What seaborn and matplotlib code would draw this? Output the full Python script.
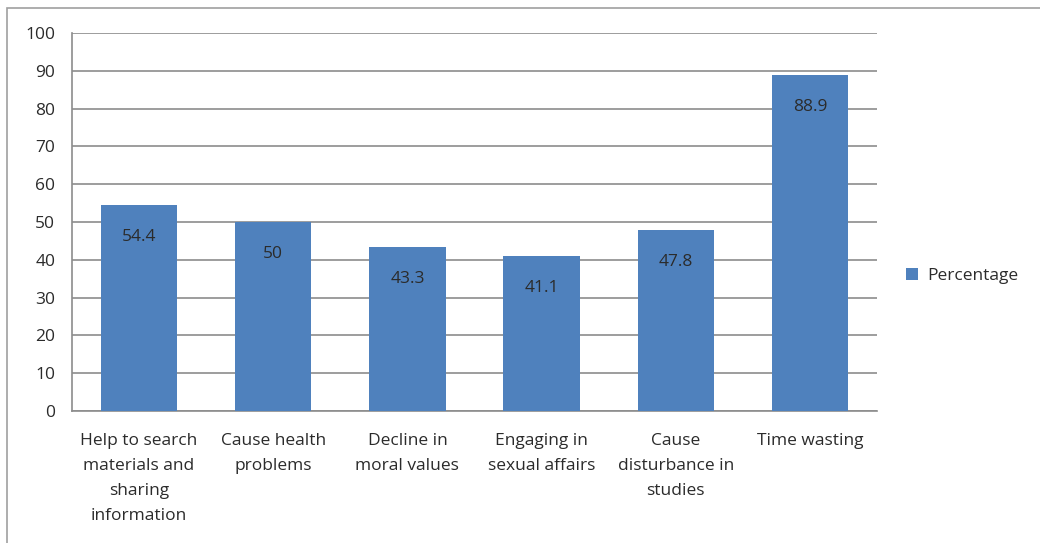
import pandas as pd
import matplotlib.pyplot as plt
import seaborn as sns
from matplotlib.patches import Rectangle

categories = [
    "Help to search\nmaterials and\nsharing\ninformation",
    "Cause health\nproblems",
    "Decline in\nmoral values",
    "Engaging in\nsexual affairs",
    "Cause\ndisturbance in\nstudies",
    "Time wasting",
]
percentages = [54.4, 50, 43.3, 41.1, 47.8, 88.9]
value_labels = ["54.4", "50", "43.3", "41.1", "47.8", "88.9"]

df = pd.DataFrame({"Category": categories, "Percentage": percentages})

sns.set_theme(style="white")
plt.rcParams['font.family'] = ['Open Sans', 'DejaVu Sans']
text_color = '#2b2b2b'
grid_color = '#8c8c8c'
fs = 12.5

fig = plt.figure(figsize=(10.4, 5.43), dpi=100)
ax = fig.add_axes([72 / 1040, 1 - 411 / 543, (877 - 72) / 1040, (411 - 33) / 543])

sns.barplot(data=df, x="Category", y="Percentage", color='#4f81bd',
            width=0.57, saturation=1, label='Percentage', ax=ax, zorder=3,
            edgecolor='none')

for patch, lab in zip(ax.patches, value_labels):
    ax.annotate(lab, (patch.get_x() + patch.get_width() / 2, patch.get_height()),
                xytext=(0, -23), textcoords='offset points',
                ha='center', va='center', fontsize=fs, color=text_color)

ax.set_ylim(0, 100)
ax.set_yticks(range(0, 101, 10))
ax.set_xticks(range(len(categories)))
ax.set_xticklabels(categories, linespacing=1.75)
ax.yaxis.grid(True, color=grid_color, linewidth=1.2)
ax.set_axisbelow(True)
ax.set_xlabel('')
ax.set_ylabel('')
for side in ['top', 'right']:
    ax.spines[side].set_visible(False)
for side in ['left', 'bottom']:
    ax.spines[side].set_color(grid_color)
    ax.spines[side].set_linewidth(1.2)
ax.tick_params(axis='both', length=0, labelsize=fs, colors=text_color)
ax.tick_params(axis='y', pad=12)
ax.tick_params(axis='x', pad=16)

ax.legend(loc='center left', bbox_to_anchor=(1.017, 0.357), frameon=False,
          fontsize=fs, handlelength=0.7, handleheight=0.7, handletextpad=0.5,
          labelcolor=text_color)

# outer chart frame
fig.patches.append(Rectangle((7 / 1040, -0.1), 1.2, 1 - 8 / 543 + 0.1,
                             transform=fig.transFigure, fill=False,
                             edgecolor='#a0a0a0', linewidth=1.2))

fig.savefig("out.png", dpi=100)
